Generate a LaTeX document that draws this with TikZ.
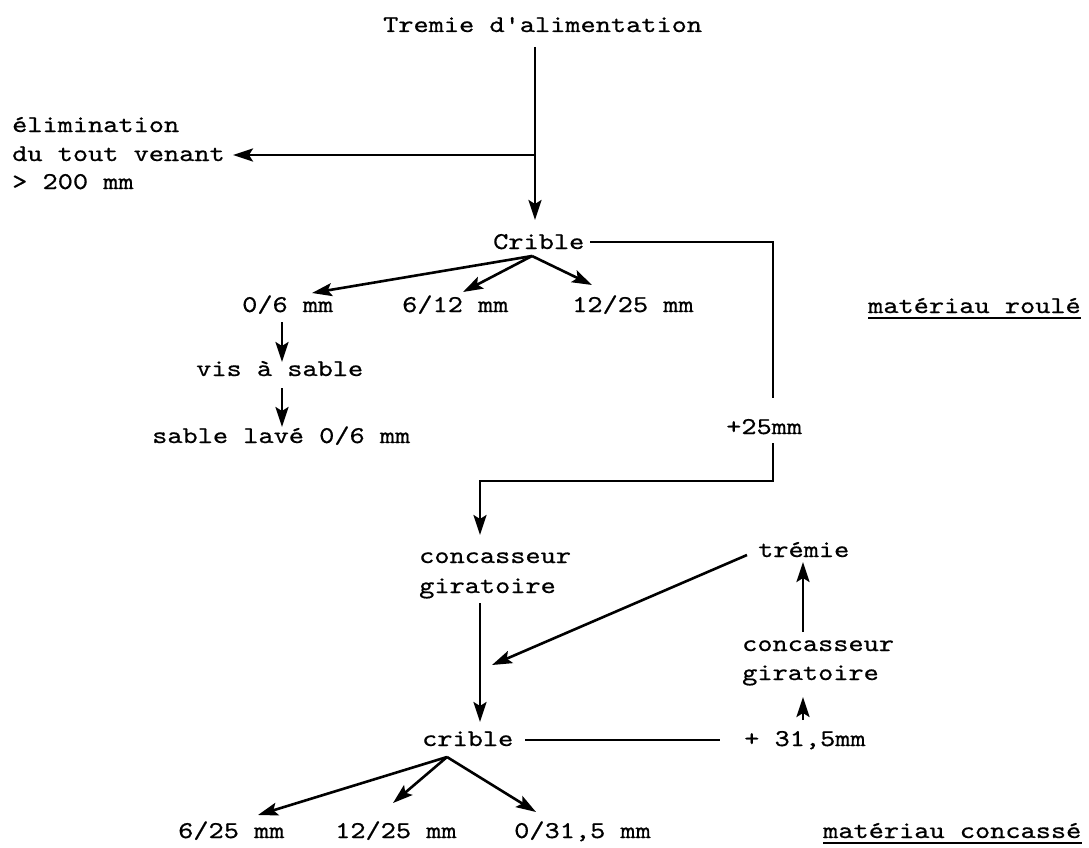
\documentclass[tikz,border=0pt]{standalone}
\usepackage{fontspec}
\setmonofont{lmmono10-regular.otf}[FakeStretch=1.2,FakeBold=0.6]
\usetikzlibrary{arrows.meta}
\begin{document}
\begin{tikzpicture}[x=1pt,y=-1pt,
  lbl/.style={anchor=base west,inner sep=0pt,font=\ttfamily\fontsize{24.1}{30}\selectfont},
  ln/.style={line width=2.6pt},
  arr/.style={ln,-{Stealth[length=20pt,width=13pt,inset=4pt]}},
  ulin/.style={line width=1.6pt}]
\useasboundingbox (0,0) rectangle (1089,848);

% texts
\node[lbl] (tremie) at (383,32) {Tremie d'alimentation};
\node[lbl] (elim1) at (12,132) {élimination};
\node[lbl] (elim2) at (12,161) {du tout venant};
\node[lbl] (elim3) at (12,189) {> 200 mm};
\node[lbl] (crible1) at (493,249) {Crible};
\node[lbl] (a06) at (242,312) {0/6 mm};
\node[lbl] (a612) at (402,312) {6/12 mm};
\node[lbl] (a1225) at (572,312) {12/25 mm};
\node[lbl] (vis) at (196,376) {vis à sable};
\node[lbl] (sable) at (152,443) {sable lavé 0/6 mm};
\node[lbl] (p25) at (726,434) {+25mm};
\node[lbl] (roule) at (868,313) {matériau roulé};
\node[lbl] (conc1a) at (419,563) {concasseur};
\node[lbl] (conc1b) at (419,593) {giratoire};
\node[lbl] (tremie2) at (758,557) {trémie};
\node[lbl] (conc2a) at (742,651) {concasseur};
\node[lbl] (conc2b) at (742,680) {giratoire};
\node[lbl] (crible2) at (422,746) {crible};
\node[lbl] (p315) at (744,746) {+ 31,5mm};
\node[lbl] (b625) at (178,838) {6/25 mm};
\node[lbl] (b1225) at (335,838) {12/25 mm};
\node[lbl] (b0315) at (514,838) {0/31,5 mm};
\node[lbl] (concasse) at (823,838) {matériau concassé};

% underlines
\draw[ulin] ([yshift=-5pt]roule.base west) -- ([yshift=-5pt]roule.base east);
\draw[ulin] ([yshift=-5pt]concasse.base west) -- ([yshift=-5pt]concasse.base east);

% connector points
\coordinate (t0) at (535,47);
\coordinate (t1) at (535,220);
\coordinate (j1) at (535,155);
\coordinate (elimtip) at (233,155);
\coordinate (br1) at (532,256);
\coordinate (tip06) at (312,293);
\coordinate (tip612) at (463,292);
\coordinate (tip1225) at (592,285);
\coordinate (r0) at (590,242);
\coordinate (r1) at (773,242);
\coordinate (r2) at (773,398);
\coordinate (s0) at (773,443);
\coordinate (s1) at (773,481);
\coordinate (s2) at (480,481);
\coordinate (s3) at (480,535);
\coordinate (v0) at (282,322);
\coordinate (v1) at (282,362);
\coordinate (w0) at (282,388);
\coordinate (w1) at (282,427);
\coordinate (g0) at (480,603);
\coordinate (g1) at (480,722);
\coordinate (m0) at (747,555);
\coordinate (m1) at (492,665);
\coordinate (n0) at (803,632);
\coordinate (n1) at (803,562);
\coordinate (q0) at (803,720);
\coordinate (q1) at (803,697);
\coordinate (h0) at (525,740);
\coordinate (h1) at (720,740);
\coordinate (br2) at (447,757);
\coordinate (tip625) at (258,815);
\coordinate (tipb1225) at (393,803);
\coordinate (tip0315) at (536,812);

% connectors
\draw[arr] (t0) -- (t1);
\draw[arr] (j1) -- (elimtip);
\draw[arr] (br1) -- (tip06);
\draw[arr] (br1) -- (tip612);
\draw[arr] (br1) -- (tip1225);
\draw[ln] (r0) -- (r1) -- (r2);
\draw[arr] (s0) -- (s1) -- (s2) -- (s3);
\draw[arr] (v0) -- (v1);
\draw[arr] (w0) -- (w1);
\draw[arr] (g0) -- (g1);
\draw[arr] (m0) -- (m1);
\draw[arr] (n0) -- (n1);
\draw[arr] (q0) -- (q1);
\draw[ln] (h0) -- (h1);
\draw[arr] (br2) -- (tip625);
\draw[arr] (br2) -- (tipb1225);
\draw[arr] (br2) -- (tip0315);
\end{tikzpicture}
\end{document}
